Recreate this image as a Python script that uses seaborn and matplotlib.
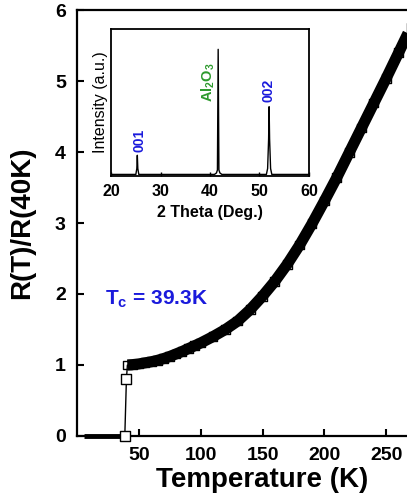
import matplotlib
matplotlib.use("Agg")
import matplotlib.pyplot as plt
import seaborn as sns
import pandas as pd

# R(T) data
zero_T = [6, 10, 15, 20, 25, 30, 35.5]
zero_R = [0, 0, 0, 0, 0, 0, 0]
trans_T = [38.7, 40.0]
trans_R = [0.0, 0.8]
normal_T = [40.8, 45, 50, 55, 60, 65, 70, 75, 80, 85, 90, 95, 100, 110, 120,
            130, 140, 150, 160, 170, 180, 190, 200, 210, 220, 230, 240, 250,
            260, 270]
normal_R = [1.0, 1.005, 1.015, 1.03, 1.045, 1.065, 1.09, 1.12, 1.155, 1.19,
            1.23, 1.27, 1.31, 1.40, 1.50, 1.62, 1.78, 1.97, 2.18, 2.42, 2.69,
            2.99, 3.31, 3.64, 3.99, 4.34, 4.69, 5.04, 5.40, 5.76]

# XRD inset data
xrd_2theta = [20, 25.0, 25.2, 25.3, 25.4, 25.6, 40.9, 41.3, 41.5, 41.65, 41.8,
              42.0, 42.4, 51.4, 51.65, 51.85, 51.95, 52.05, 52.25, 52.5, 60]
xrd_int = [0.01, 0.01, 0.05, 0.14, 0.05, 0.01, 0.01, 0.02, 0.04, 0.86, 0.04,
           0.02, 0.01, 0.01, 0.05, 0.25, 0.47, 0.25, 0.05, 0.01, 0.01]

sns.set_style("ticks", {'axes.edgecolor': 'black', 'text.color': 'black',
                        'xtick.color': 'black', 'ytick.color': 'black',
                        'axes.labelcolor': 'black'})
plt.rcParams['font.family'] = ['Liberation Sans', 'DejaVu Sans']
plt.rcParams['font.weight'] = 'bold'
plt.rcParams['mathtext.fontset'] = 'custom'
plt.rcParams['mathtext.rm'] = 'Liberation Sans:bold'
plt.rcParams['mathtext.it'] = 'Liberation Sans:bold'
plt.rcParams['mathtext.bf'] = 'Liberation Sans:bold'

fig = plt.figure(figsize=(4.07, 5.04), dpi=100)
ax = fig.add_axes([0.189, 0.135, 0.912, 0.845])

df_norm = pd.DataFrame({'T': normal_T, 'R': normal_R})
df_zero = pd.DataFrame({'T': zero_T, 'R': zero_R})
df_trans = pd.DataFrame({'T': trans_T + [normal_T[0]], 'R': trans_R + [normal_R[0]]})

sns.lineplot(data=df_zero, x='T', y='R', ax=ax, color='black', lw=3.5,
             solid_capstyle='butt', clip_on=False, zorder=3)
sns.lineplot(data=df_trans, x='T', y='R', ax=ax, color='black', lw=1.0, zorder=2)
sns.scatterplot(x=trans_T, y=trans_R, ax=ax, marker='s', s=45, facecolor='white',
                edgecolor='black', linewidth=1.0, clip_on=False, zorder=4)
sns.lineplot(data=df_norm, x='T', y='R', ax=ax, color='black', lw=8,
             solid_capstyle='butt', zorder=3)
sns.scatterplot(data=df_norm, x='T', y='R', ax=ax, marker='s', s=40,
                facecolor='none', edgecolor='black', linewidth=1.0, zorder=4)

ax.set_xlim(0, 300)
ax.set_ylim(0, 6)
ax.set_xticks([50, 100, 150, 200, 250])
ax.set_yticks([0, 1, 2, 3, 4, 5, 6])
ax.tick_params(direction='in', length=5, width=1.5, labelsize=14, pad=8)
for s in ax.spines.values():
    s.set_linewidth(1.6)
ax.set_xlabel('Temperature (K)', fontsize=20, fontweight='bold', labelpad=2)
ax.set_ylabel('R(T)/R(40K)', fontsize=20, fontweight='bold', labelpad=14)
ax.text(23, 1.85, r'T$_\mathregular{c}$ = 39.3K', color='#1a1adc', fontsize=15,
        fontweight='bold')

# inset
ins = fig.add_axes([0.273, 0.651, 0.486, 0.292])
sns.lineplot(x=xrd_2theta, y=xrd_int, ax=ins, color='black', lw=1.0)
ins.set_xlim(20, 60)
ins.set_ylim(0, 1)
ins.set_xticks([20, 30, 40, 50, 60])
ins.set_yticks([])
ins.tick_params(direction='in', length=3, width=1.0, labelsize=11.5, pad=6)
for s in ins.spines.values():
    s.set_linewidth(1.3)
ins.set_xlabel('2 Theta (Deg.)', fontsize=11.5, fontweight='bold', labelpad=4)
ins.set_ylabel('Intensity (a.u.)', fontsize=11.5, fontweight='normal', labelpad=2)
ins.text(25.8, 0.16, '001', color='#1a1adc', fontsize=10, fontweight='bold',
         rotation=90, ha='center', va='bottom')
ins.text(39.6, 0.50, r'Al$_\mathregular{2}$O$_\mathregular{3}$', color='#2e9a2e',
         fontsize=10.5, fontweight='bold', rotation=90, ha='center', va='bottom')
ins.text(51.9, 0.50, '002', color='#1a1adc', fontsize=10, fontweight='bold',
         rotation=90, ha='center', va='bottom')

fig.savefig('out.png', dpi=100)
